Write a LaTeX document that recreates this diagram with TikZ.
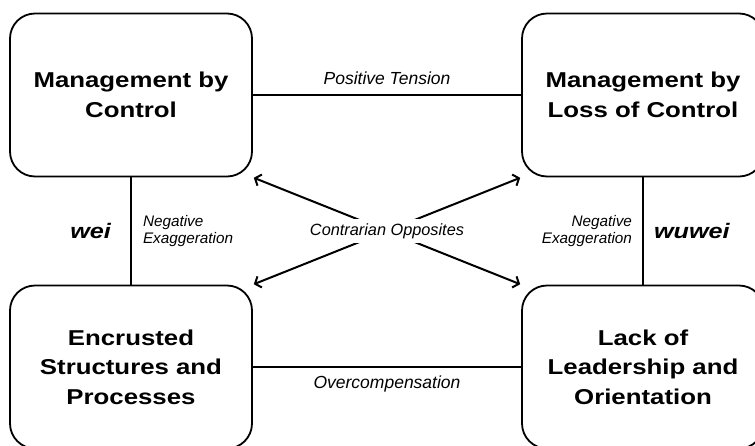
\documentclass[tikz,border=0pt]{standalone}
\usepackage{fontspec}
\setmainfont{Liberation Sans}
\newfontfamily\boxfont[FakeStretch=1.2]{Liberation Sans}
\usetikzlibrary{arrows.meta}
\usetikzlibrary{positioning}
\tikzset{box/.style = {draw, line width = 1.8pt, rounded corners = 25pt, minimum width = 242pt, minimum height = 163pt, align = center, font = \boxfont\bfseries\fontsize{21.5}{29.5}\selectfont}}
\tikzset{lbl/.style = {font = \itshape\fontsize{17.5}{20}\selectfont, inner sep = 2pt}}
\tikzset{neg/.style = {font = \itshape\fontsize{15.3}{17.5}\selectfont, inner sep = 2pt}}
\tikzset{dao/.style = {font = \boxfont\bfseries\itshape\fontsize{21}{25}\selectfont, inner sep = 2pt}}
\tikzset{link/.style = {line width = 2pt}}

\begin{document}
\begin{tikzpicture}[x = 1pt, y = -1pt]
          \useasboundingbox (0, 0) rectangle (755, 445);
          \node [box] (mbc) at (131, 95) {Management by\\Control};
          \node [box] (mblc) at (643, 95) {Management by\\Loss of Control};
          \node [box] (esp) at (131, 367) {Encrusted\\Structures and\\Processes};
          \node [box] (llo) at (643, 367) {Lack of\\Leadership and\\Orientation};
          % connectors
          \draw [link] (mbc) -- node [lbl, above = 7pt] (pt) {Positive Tension} (mblc);
          \draw [link] (esp) -- node [lbl, below = 6pt] (oc) {Overcompensation} (llo);
          \draw [link] (mbc) -- node [neg, right = 9pt, align = left] (ne1) {Negative\\Exaggeration}
                                node [dao, left = 17pt] (wei) {wei} (esp);
          \draw [link] (mblc) -- node [neg, left = 8pt, align = right] (ne2) {Negative\\Exaggeration}
                                 node [dao, right = 8pt] (wuwei) {wuwei} (llo);
          % contrarian opposites
          \foreach \a/\b in {mbc.south east/llo.north west, esp.north east/mblc.south west} {
            \draw [link, {Straight Barb[length = 5pt, width = 12pt]}-{Straight Barb[length = 5pt, width = 12pt]}, shorten <= 1pt, shorten >= 1pt] (\a) -- (\b);
          }
          \node [fill = white, font = \itshape\fontsize{16.3}{18}\selectfont, inner sep = 4pt] (co) at (387, 231) {Contrarian Opposites};
        \end{tikzpicture}
\end{document}
